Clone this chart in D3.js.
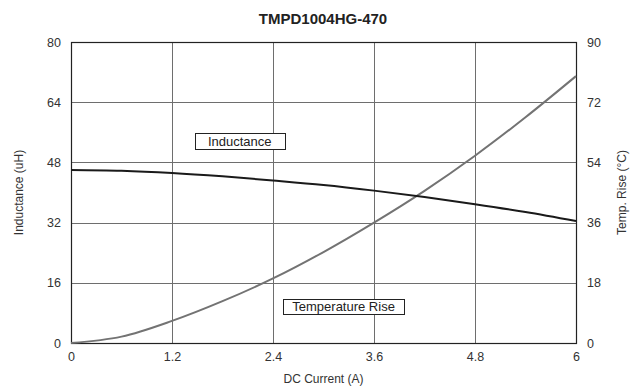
<!DOCTYPE html>
<html>
<head>
<meta charset="utf-8">
<script src="https://cdn.jsdelivr.net/npm/d3@7"></script>
<style>
  body { margin: 0; background: #fff; }
  svg { font-family: Arial, "Liberation Sans", sans-serif; }
</style>
</head>
<body>
<svg id="chart" width="635" height="387"></svg>
<script>
const currents = [0, 0.6, 1.2, 1.8, 2.4, 3.0, 3.6, 4.2, 4.8, 5.4, 6.0]
const inductance = [46, 45.8, 45.2, 44.3, 43.2, 42.0, 40.5, 38.8, 36.9, 34.8, 32.4]
const tempRise = [0, 1.9, 6.6, 12.5, 19.3, 27.2, 36.0, 45.5, 56.0, 67.5, 79.8]
const xTicks = [0, 1.2, 2.4, 3.6, 4.8, 6]
const yLeftTicks = [0, 16, 32, 48, 64, 80]
const yRightTicks = [0, 18, 36, 54, 72, 90]

const margins = {left: 71, top: 42, right: 59, bottom: 44}
const width = 635
const height = 387

const svg = d3.select('#chart')

const x = d3.scaleLinear().domain([0, 6])
  .range([margins.left, width - margins.right])
const yL = d3.scaleLinear().domain([0, 80])
  .range([height - margins.bottom, margins.top])
const yR = d3.scaleLinear().domain([0, 90])
  .range([height - margins.bottom, margins.top])

// grid
const grid = svg.append('g').attr('stroke', '#6e6e6e').attr('stroke-width', 1)
grid.selectAll('line.v').data(xTicks.slice(1, -1)).join('line')
  .attr('x1', d => Math.round(x(d)) + 0.5).attr('x2', d => Math.round(x(d)) + 0.5)
  .attr('y1', yL(0)).attr('y2', yL(80))
grid.selectAll('line.h').data(yLeftTicks.slice(1, -1)).join('line')
  .attr('y1', d => Math.round(yL(d)) + 0.5).attr('y2', d => Math.round(yL(d)) + 0.5)
  .attr('x1', x(0)).attr('x2', x(6))

// frame
svg.append('rect')
  .attr('x', x(0) + 0.5).attr('y', yL(80) + 0.5)
  .attr('width', x(6) - x(0)).attr('height', yL(0) - yL(80))
  .attr('fill', 'none').attr('stroke', '#222').attr('stroke-width', 1.2)

// axes
const tickText = '#333'
const xAxis = svg.append('g')
  .attr('transform', `translate(0, ${yL(0)})`)
  .call(d3.axisBottom(x).tickValues(xTicks).tickSize(0).tickPadding(9)
    .tickFormat(d3.format('')))
const yAxisL = svg.append('g')
  .attr('transform', `translate(${x(0)}, 0)`)
  .call(d3.axisLeft(yL).tickValues(yLeftTicks).tickSize(0).tickPadding(10))
const yAxisR = svg.append('g')
  .attr('transform', `translate(${x(6)}, 0)`)
  .call(d3.axisRight(yR).tickValues(yRightTicks).tickSize(0).tickPadding(11))
;[xAxis, yAxisL, yAxisR].forEach(a => {
  a.select('.domain').remove()
  a.selectAll('text').attr('font-size', 12.5).attr('fill', tickText)
    .attr('font-family', 'Arial, "Liberation Sans", sans-serif')
})

// curves
const line = yScale => d3.line()
  .x((d, i) => x(currents[i]))
  .y(d => yScale(d))
  .curve(d3.curveCatmullRom)

svg.append('path').datum(tempRise)
  .attr('d', line(yR))
  .attr('fill', 'none').attr('stroke', '#737373').attr('stroke-width', 2)
svg.append('path').datum(inductance)
  .attr('d', line(yL))
  .attr('fill', 'none').attr('stroke', '#1a1a1a').attr('stroke-width', 2)

// labels in boxes
const boxes = [
  {text: 'Inductance', x: 1.47, y: 55.8, w: 90, h: 16},
  {text: 'Temperature Rise', x: 2.52, y: 11.8, w: 121, h: 15},
]
boxes.forEach(b => {
  const g = svg.append('g')
  g.append('rect')
    .attr('x', Math.round(x(b.x)) + 0.5).attr('y', Math.round(yL(b.y)) + 0.5)
    .attr('width', b.w).attr('height', b.h)
    .attr('fill', '#fff').attr('stroke', '#222').attr('stroke-width', 1)
  g.append('text')
    .attr('x', x(b.x) + b.w / 2).attr('y', yL(b.y) + b.h / 2 + 4.5)
    .attr('text-anchor', 'middle').attr('font-size', 13).attr('fill', '#222')
    .text(b.text)
})

// titles
svg.append('text')
  .attr('x', 323).attr('y', 24)
  .attr('text-anchor', 'middle').attr('font-size', 15).attr('font-weight', 'bold')
  .attr('fill', '#222').text('TMPD1004HG-470')
svg.append('text')
  .attr('x', (x(0) + x(6)) / 2).attr('y', 383)
  .attr('text-anchor', 'middle').attr('font-size', 12).attr('fill', tickText)
  .text('DC Current (A)')
svg.append('text')
  .attr('transform', `translate(23, ${(yL(0) + yL(80)) / 2}) rotate(-90)`)
  .attr('text-anchor', 'middle').attr('font-size', 12).attr('fill', tickText)
  .text('Inductance (uH)')
svg.append('text')
  .attr('transform', `translate(626, ${(yL(0) + yL(80)) / 2}) rotate(-90)`)
  .attr('text-anchor', 'middle').attr('font-size', 12).attr('fill', tickText)
  .text('Temp. Rise (°C)')
</script>
</body>
</html>
